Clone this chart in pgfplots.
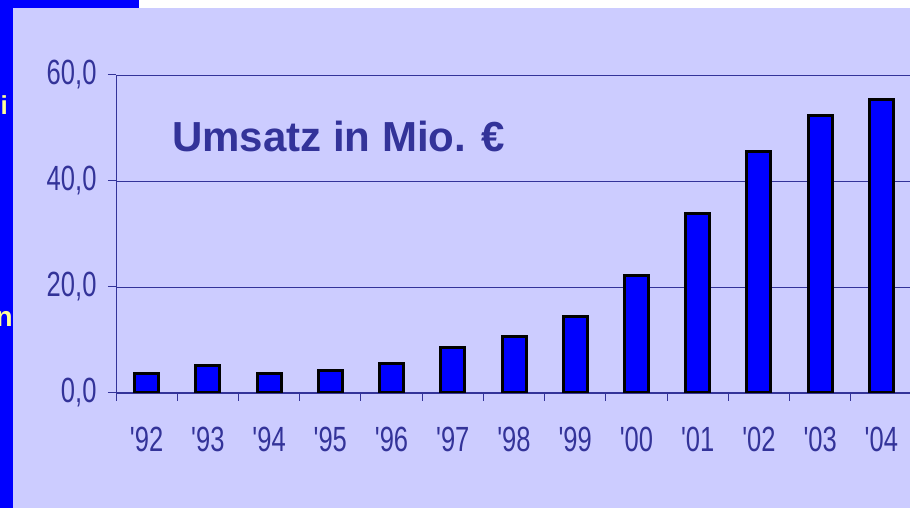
\documentclass[border=0pt]{standalone}
\usepackage{pgfplots}
\pgfplotsset{compat=1.18}
\usepackage{fontspec}
\setmainfont{Liberation Sans}
\newfontfamily\narrowfont{Liberation Sans}[FakeStretch=0.73]
\definecolor{bg}{HTML}{CCCCFF}
\definecolor{txt}{HTML}{333399}
\definecolor{yel}{HTML}{FFFF99}
\definecolor{barblue}{HTML}{0000FF}

\begin{document}
\begin{tikzpicture}[x=1pt,y=1pt]
\useasboundingbox (0,0) rectangle (910,508);
\fill[bg] (0,0) rectangle (910,500);
\fill[white] (0,500) rectangle (910,508);
\fill[barblue] (0,0) rectangle (13,500);
\fill[barblue] (0,500) rectangle (139,508);
\node[anchor=base east, inner sep=0, text=yel, font=\bfseries\fontsize{26}{28}\selectfont] at (8,393) {i};
\node[anchor=base east, inner sep=0, text=yel, font=\bfseries\fontsize{28}{30}\selectfont] at (13,181) {n};
\begin{axis}[
  at={(116pt,115pt)}, anchor=south west,
  scale only axis, width=796pt, height=318pt,
  xmin=-0.5, xmax=12.5, ymin=0, ymax=60,
  axis x line*=bottom, axis y line*=left,
  axis line style={txt, line width=1pt},
  every tick/.style={txt, line width=1pt},
  tick align=outside, major tick length=8pt,
  ytick={0,20,40,60},
  yticklabels={{0,0},{20,0},{40,0},{60,0}},
  ymajorgrids, grid style={txt, line width=0.9pt},
  xtick={-0.5,0.5,...,12.5},
  xticklabels={},
  extra x ticks={0,1,2,3,4,5,6,7,8,9,10,11,12},
  extra x tick labels={'92,'93,'94,'95,'96,'97,'98,'99,'00,'01,'02,'03,'04},
  extra x tick style={major tick length=0pt, grid=none},
  ticklabel style={font=\narrowfont\fontsize{35}{38}\selectfont, text=txt},
  xticklabel style={anchor=north, inner sep=0pt, yshift=-34pt},
  yticklabel style={anchor=east, xshift=-8pt},
]
\addplot[ybar, bar width=24pt, bar shift=0pt, fill=barblue, draw=black, line width=3pt]
coordinates {(0,3.7) (1,5.2) (2,3.7) (3,4.2) (4,5.6) (5,8.6) (6,10.6) (7,14.4) (8,22.2) (9,33.9) (10,45.6) (11,52.4) (12,55.4)};
\end{axis}
\node[anchor=base west, inner sep=0, text=txt, font=\bfseries\fontsize{42}{46}\selectfont] at (172,356) {Umsatz in Mio. €};
\end{tikzpicture}
\end{document}
